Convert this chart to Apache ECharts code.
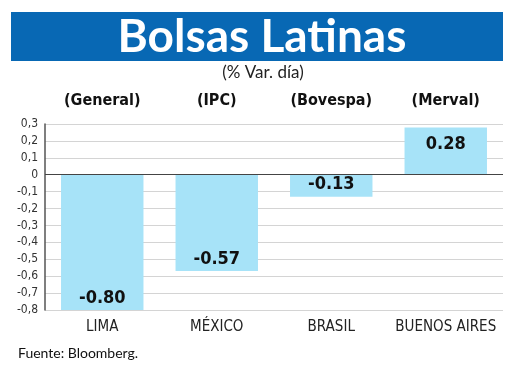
<!DOCTYPE html>
<html><head><meta charset="utf-8">
<script src="https://cdn.jsdelivr.net/npm/echarts@6/dist/echarts.min.js"></script>
<style>html,body{margin:0;padding:0;background:#fff}#c{width:520px;height:390px}</style>
</head><body><div id="c"></div>
<script>
const categories = ['LIMA', 'MÉXICO', 'BRASIL', 'BUENOS AIRES'];
const indexNames = ['(General)', '(IPC)', '(Bovespa)', '(Merval)'];
const values = [-0.80, -0.57, -0.13, 0.28];
const titleText = 'Bolsas Latinas';
const subtitleText = '(% Var. día)';
const sourceText = 'Fuente: Bloomberg.';

const chart = echarts.init(document.getElementById('c'), null, {renderer: 'canvas'});
const data = values.map(v => ({
  value: v,
  label: {position: v < 0 ? 'insideBottom' : 'insideTop', distance: v < 0 ? 3 : 8}
}));
chart.setOption({
  animation: false,
  backgroundColor: '#fff',
  graphic: [
    {type: 'rect', shape: {x: 11, y: 12, width: 492, height: 49}, style: {fill: '#0868b4'}},
    {type: 'text', x: 262, y: 37, style: {text: titleText, fill: '#fff', font: 'bold 46px Lato', align: 'center', verticalAlign: 'middle'}},
    {type: 'text', x: 263, y: 73, style: {text: subtitleText, fill: '#222', font: '17px Lato', align: 'center', verticalAlign: 'middle'}},
    {type: 'text', x: 18, y: 353, style: {text: sourceText, fill: '#111', font: '14px Lato', align: 'left', verticalAlign: 'middle'}}
  ],
  grid: {left: 45, right: 17, top: 124, bottom: 80},
  xAxis: [
    {type: 'category', data: categories, position: 'bottom',
     axisLine: {show: false}, axisTick: {show: false},
     axisLabel: {interval: 0, color: '#222', fontSize: 15, fontFamily: 'DejaVu Sans Condensed', margin: 10}},
    {type: 'category', data: indexNames, position: 'top',
     axisLine: {show: false}, axisTick: {show: false},
     axisLabel: {interval: 0, color: '#111', fontSize: 16, fontWeight: 'bold', fontFamily: 'DejaVu Sans Condensed', margin: 15}}
  ],
  yAxis: {
    type: 'value', min: -0.8, max: 0.3, interval: 0.1,
    axisLine: {show: true, lineStyle: {color: '#555', width: 1.5}},
    axisTick: {show: false},
    axisLabel: {color: '#333', fontSize: 12, fontFamily: 'DejaVu Sans Condensed', margin: 7,
      formatter: v => { const r = Math.round(v * 10) / 10; return r === 0 ? '0' : r.toFixed(1).replace('.', ','); }},
    splitLine: {show: true, lineStyle: {color: '#d4d4d4', width: 1}}
  },
  series: [{
    type: 'bar', data: data, barWidth: '72%', xAxisIndex: 0,
    itemStyle: {color: '#a7e3f8'},
    label: {show: true, color: '#111', fontSize: 18, fontWeight: 'bold', fontFamily: 'DejaVu Sans Condensed',
      formatter: p => p.value.toFixed(2)},
    markLine: {silent: true, symbol: 'none', label: {show: false},
      lineStyle: {color: '#444', type: 'solid', width: 1.2}, data: [{yAxis: 0}]}
  }]
});
</script></body></html>
